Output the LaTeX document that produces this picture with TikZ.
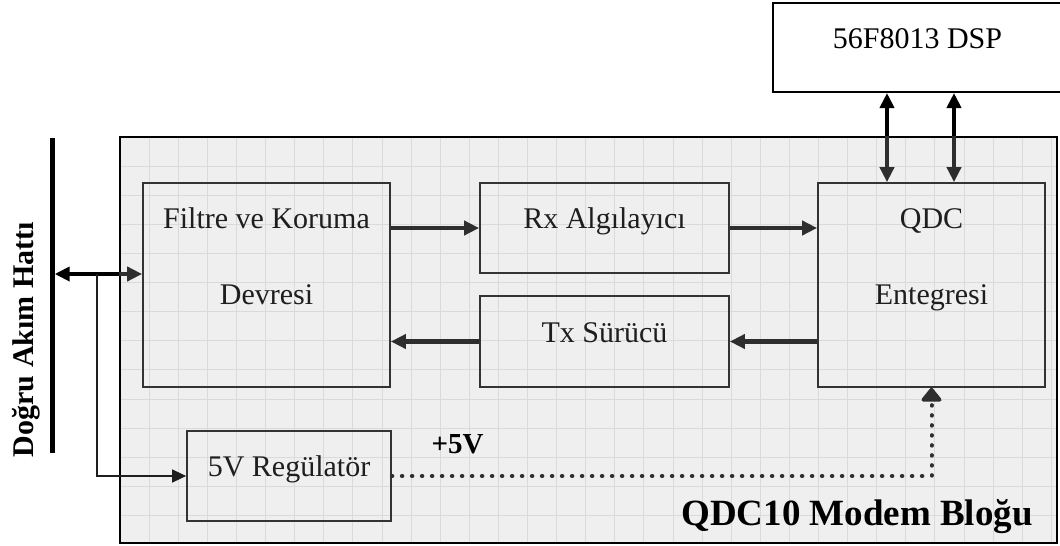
\documentclass[tikz,border=0pt]{standalone}
\usepackage{fontspec}
\setmainfont{Liberation Serif}
\usetikzlibrary{arrows.meta}

\definecolor{panelfill}{HTML}{EFEFEF}
\definecolor{gridcol}{HTML}{DADADA}
\definecolor{boxgray}{HTML}{333333}
\definecolor{textgray}{HTML}{1E1E1E}
\definecolor{sigcol}{HTML}{2E2E2E}

\tikzset{
  block/.style={draw=boxgray, line width=1.7pt, inner sep=0pt},
  outerbox/.style={draw=black, line width=2pt, inner sep=0pt},
  lbl/.style={anchor=base, inner sep=0pt, text=textgray,
              font=\fontsize{30}{36}\selectfont},
  boldlbl/.style={anchor=base, inner sep=0pt, text=black,
              font=\bfseries\fontsize{30}{36}\selectfont},
  gridline/.style={draw=gridcol, line width=0.8pt},
  sig/.style={draw=sigcol, line width=4.5pt,
              -{Triangle[length=15pt,width=14pt]}},
  extsig/.style={draw=black, line width=4.5pt,
              {Triangle[length=15pt,width=14pt]}-},
  feed/.style={draw=textgray, line width=1.5pt,
              -{Triangle[length=14pt,width=13pt]}},
  supply/.style={draw=sigcol, line width=4pt, line cap=round,
              dash pattern=on 0.5pt off 9.5pt,
              -{Triangle[length=15pt,width=23pt,round=false]}},
}

\begin{document}
\begin{tikzpicture}[x=1pt, y=-1pt]
  \useasboundingbox (0,0) rectangle (1060,546);

  % modem block panel with its grid
  \node[outerbox, fill=panelfill, minimum width=937pt, minimum height=406pt]
    (modem) at (588.5,340) {};
  \foreach \i in {1,...,32}
    \draw[gridline] ({120+29.1*\i},138) -- ({120+29.1*\i},542);
  \foreach \j in {1,...,13}
    \draw[gridline] (121,{137+29.1*\j}) -- (1056,{137+29.1*\j});
  \node[outerbox, minimum width=937pt, minimum height=406pt]
    (modemframe) at (588.5,340) {};

  % DSP outside the block
  \node[outerbox, minimum width=289pt, minimum height=89pt]
    (dsp) at (917.5,47.5) {};
  \node[lbl, text=black] (dsptxt) at (917.5,48) {56F8013 DSP};

  % DC line bus
  \node[fill=black, inner sep=0pt, minimum width=5pt, minimum height=315pt]
    (bus) at (52,295.5) {};
  \node[boldlbl, rotate=90] (bustxt) at (33,339.5) {Doğru Akım Hattı};

  % functional blocks
  \node[block, minimum width=247pt, minimum height=204pt] (filt) at (266.5,285) {};
  \node[block, minimum width=249pt, minimum height=90pt]  (rx)   at (604.5,228) {};
  \node[block, minimum width=249pt, minimum height=91pt]  (tx)   at (604.5,341.5) {};
  \node[block, minimum width=227pt, minimum height=204pt] (qdc)  at (931.5,285) {};
  \node[block, minimum width=204pt, minimum height=90pt]  (reg)  at (289,476) {};

  % block labels
  \node[lbl] (filt1) at (266.5,228) {Filtre ve Koruma};
  \node[lbl] (filt2) at (266.5,304) {Devresi};
  \node[lbl] (rxtxt) at (604.5,228) {Rx Algılayıcı};
  \node[lbl] (txtxt) at (604.5,342) {Tx Sürücü};
  \node[lbl] (qdc1)  at (931.5,228) {QDC};
  \node[lbl] (qdc2)  at (931.5,304) {Entegresi};
  \node[lbl] (regtxt) at (289,476) {5V Regülatör};
  \node[boldlbl, font=\bfseries\fontsize{29}{34}\selectfont] (vtxt) at (457.5,453) {+5V};
  \node[boldlbl, anchor=base east, font=\bfseries\fontsize{37}{44}\selectfont]
    (title) at (1033,525) {QDC10 Modem Bloğu};

  % junction points
  \coordinate (j) at (97,274);
  \coordinate (d1) at (887,0);
  \coordinate (d2) at (954,0);

  % DC line <-> filter
  \draw[extsig] (bus.east |- j) -- (modem.west |- j);
  \draw[sig] (modem.west |- j) -- (filt.west |- j);
  \draw[feed] (j) |- (reg.west);

  % receive and transmit paths
  \draw[sig] (filt.east |- rx.west) -- (rx.west);
  \draw[sig] (rx.east) -- (rx.east -| qdc.west);
  \draw[sig] (qdc.west |- tx.east) -- (tx.east);
  \draw[sig] (tx.west) -- (tx.west -| filt.east);

  % DSP <-> QDC
  \draw[extsig] (d1 |- dsp.south) -- (d1 |- modem.north);
  \draw[sig] (d1 |- modem.north) -- (d1 |- qdc.north);
  \draw[extsig] (d2 |- dsp.south) -- (d2 |- modem.north);
  \draw[sig] (d2 |- modem.north) -- (d2 |- qdc.north);

  % +5V supply
  \draw[supply] (reg.east) -| (qdc.south);
\end{tikzpicture}
\end{document}
